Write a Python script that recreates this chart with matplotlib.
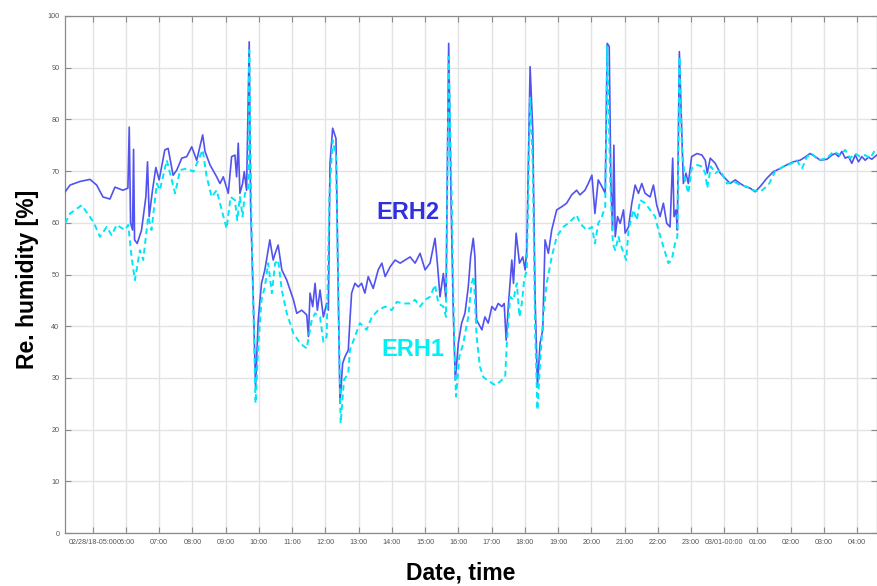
#!/usr/bin/env python3
"""Relative humidity of the two ERH sensors over one day (02/28 - 03/01)."""

import pandas as pd
import matplotlib
matplotlib.use("Agg")
import matplotlib.pyplot as plt
import matplotlib.dates as mdates

# hours counted from 02/28/18 04:00
erh2_hours = [
    0.17, 0.32, 0.62, 0.92, 1.12, 1.31, 1.52, 1.67, 1.91, 2.06, 2.10, 2.14, 2.20, 2.23,
    2.26, 2.34, 2.47, 2.60, 2.65, 2.70, 2.80, 2.90, 3.00, 3.17, 3.27, 3.42, 3.53, 3.68,
    3.83, 3.98, 4.13, 4.31, 4.38, 4.53, 4.73, 4.83, 4.93, 5.08, 5.18, 5.28, 5.33, 5.38,
    5.43, 5.51, 5.56, 5.63, 5.71, 5.75, 5.83, 5.90, 5.98, 6.08, 6.18, 6.28, 6.33, 6.43,
    6.49, 6.58, 6.69, 6.84, 7.04, 7.14, 7.29, 7.44, 7.49, 7.54, 7.62, 7.69, 7.76, 7.84,
    7.94, 8.04, 8.09, 8.14, 8.22, 8.32, 8.36, 8.44, 8.52, 8.59, 8.69, 8.74, 8.79, 8.89,
    8.99, 9.09, 9.19, 9.29, 9.44, 9.59, 9.70, 9.80, 9.95, 10.10, 10.25, 10.40, 10.55,
    10.70, 10.85, 11.00, 11.15, 11.30, 11.37, 11.45, 11.55, 11.63, 11.71, 11.78, 11.85,
    11.91, 12.00, 12.10, 12.20, 12.30, 12.37, 12.45, 12.50, 12.55, 12.71, 12.80, 12.90,
    13.01, 13.11, 13.20, 13.31, 13.38, 13.44, 13.51, 13.61, 13.66, 13.74, 13.84, 13.94,
    14.01, 14.06, 14.16, 14.24, 14.31, 14.38, 14.46, 14.54, 14.61, 14.71, 14.81, 14.96,
    15.11, 15.26, 15.41, 15.56, 15.66, 15.81, 15.91, 16.02, 16.11, 16.21, 16.32, 16.42,
    16.48, 16.54, 16.59, 16.64, 16.68, 16.72, 16.79, 16.87, 16.97, 17.02, 17.12, 17.22,
    17.32, 17.42, 17.52, 17.62, 17.77, 17.87, 17.97, 18.07, 18.17, 18.27, 18.37, 18.45,
    18.49, 18.55, 18.59, 18.65, 18.72, 18.77, 18.85, 18.92, 19.02, 19.18, 19.33, 19.43,
    19.49, 19.58, 19.73, 19.88, 20.03, 20.18, 20.33, 20.48, 20.63, 20.78, 20.93, 21.08,
    21.28, 21.48, 21.68, 21.88, 22.08, 22.28, 22.43, 22.58, 22.74, 22.89, 23.09, 23.24,
    23.34, 23.44, 23.54, 23.64, 23.74, 23.84, 23.94, 24.04, 24.14, 24.24, 24.34, 24.44,
    24.59,
]
erh2_values = [
    66.0, 67.3, 68.0, 68.4, 67.3, 65.0, 64.6, 66.9, 66.3, 66.7, 78.5, 60.0, 58.6, 74.2,
    56.7, 56.0, 58.6, 65.0, 71.8, 61.2, 66.3, 70.7, 68.3, 74.1, 74.4, 69.2, 70.2, 72.5,
    72.8, 74.7, 72.1, 77.0, 73.8, 71.2, 68.9, 67.6, 68.9, 65.7, 72.8, 73.1, 68.9, 75.4,
    65.7, 67.6, 69.9, 66.3, 95.0, 63.8, 45.7, 28.3, 41.2, 48.3, 50.9, 54.7, 56.7, 52.8,
    54.1, 55.7, 50.9, 48.9, 45.1, 42.5, 43.1, 42.2, 38.0, 46.4, 43.8, 48.3, 43.1, 47.0,
    41.8, 44.4, 43.1, 71.5, 78.3, 76.3, 58.6, 25.1, 32.8, 34.1, 35.4, 41.2, 46.4, 48.3,
    47.6, 48.3, 46.4, 49.6, 47.3, 50.9, 52.2, 49.6, 51.5, 52.8, 52.2, 52.8, 53.4,
    52.2, 54.1, 50.9, 52.2, 57.0, 52.2, 45.7, 50.2, 45.1, 94.7, 65.0, 42.5,
    29.6, 36.7, 40.6, 42.5, 47.6, 53.4, 57.0, 53.4, 41.2, 39.3, 41.8, 40.6,
    43.8, 43.1, 44.4, 43.8, 44.4, 37.3, 44.4, 52.8, 48.3, 58.0, 52.2, 53.4,
    50.9, 54.7, 90.2, 77.9, 45.7, 28.3, 36.7, 39.3, 56.7, 54.1, 58.6, 62.5,
    63.1, 63.8, 65.4, 66.3, 65.4, 66.3, 67.6, 69.2, 61.8, 68.3, 67.0, 65.7,
    94.7, 94.1, 67.6, 58.6, 75.0, 57.3, 61.2, 59.9, 62.5, 58.0, 59.2, 63.8,
    67.3, 65.7, 67.6, 65.7, 65.0, 67.3, 63.4, 61.2, 63.8, 59.9, 59.2, 72.5,
    61.2, 62.5, 58.6, 93.1, 77.9, 67.6, 69.6, 67.6, 72.8, 73.4, 73.1, 72.1,
    69.6, 72.5, 71.5, 69.6, 68.6, 67.6, 68.3, 67.6, 67.0, 66.7, 66.0, 67.0,
    68.6, 69.9, 70.5, 71.2, 71.8, 72.1, 72.7, 73.4, 72.8, 72.1, 72.3, 73.1,
    73.4, 72.8, 73.8, 72.5, 72.8, 71.5, 73.1, 71.8, 72.8, 72.1, 72.7, 72.3,
    73.1,
]

erh1_hours = [
    0.17, 0.32, 0.67, 1.02, 1.22, 1.42, 1.57, 1.72, 1.97, 2.07, 2.17, 2.27, 2.42, 2.52,
    2.67, 2.77, 2.93, 3.02, 3.23, 3.48, 3.63, 3.83, 4.03, 4.31, 4.43, 4.58, 4.73, 4.88,
    5.03, 5.15, 5.28, 5.35, 5.43, 5.51, 5.58, 5.68, 5.71, 5.78, 5.85, 5.90, 5.98, 6.08,
    6.18, 6.28, 6.39, 6.49, 6.58, 6.69, 6.84, 7.04, 7.24, 7.44, 7.59, 7.69, 7.84, 7.94,
    8.04, 8.12, 8.22, 8.32, 8.39, 8.46, 8.56, 8.69, 8.74, 8.89, 9.04, 9.24, 9.40, 9.59,
    9.80, 10.00, 10.15, 10.35, 10.55, 10.70, 10.85, 11.00, 11.15, 11.30, 11.40, 11.55,
    11.63, 11.71, 11.80, 11.87, 11.93, 12.03, 12.15, 12.30, 12.40, 12.47, 12.55, 12.65,
    12.75, 12.86, 13.11, 13.26, 13.41, 13.46, 13.56, 13.66, 13.76, 13.84, 13.91, 13.98,
    14.06, 14.16, 14.24, 14.31, 14.38, 14.46, 14.56, 14.66, 14.81, 14.96, 15.16, 15.36,
    15.56, 15.66, 15.86, 16.02, 16.11, 16.21, 16.32, 16.42, 16.48, 16.57, 16.65, 16.72,
    16.82, 16.87, 17.05, 17.12, 17.27, 17.37, 17.47, 17.62, 17.77, 17.92, 18.02, 18.17,
    18.32, 18.42, 18.52, 18.59, 18.65, 18.73, 18.82, 18.92, 19.02, 19.18, 19.33, 19.43,
    19.49, 19.60, 19.73, 19.88, 20.08, 20.28, 20.48, 20.68, 20.88, 21.08, 21.33, 21.53,
    21.78, 22.03, 22.18, 22.34, 22.49, 22.64, 22.83, 23.09, 23.29, 23.49, 23.64, 23.79,
    23.94, 24.09, 24.24, 24.39, 24.57,
]
erh1_values = [
    59.9, 61.8, 63.4, 60.2, 57.3, 59.2, 57.6, 59.6, 58.6, 59.6, 53.4, 48.9, 54.7, 52.8,
    61.2, 58.6, 67.6, 66.3, 72.1, 65.7, 70.2, 70.5, 69.9, 74.1, 68.9, 65.0, 66.3, 62.5,
    58.9, 65.0, 64.4, 60.5, 65.0, 61.2, 65.7, 66.3, 93.4, 58.6, 39.3, 25.1, 36.0, 45.1,
    47.6, 52.2, 46.4, 52.2, 52.8, 47.0, 42.5, 38.6, 36.7, 35.7, 41.2, 42.5, 41.8, 37.0,
    38.0, 65.0, 76.0, 72.8, 45.7, 21.2, 29.6, 30.9, 35.4, 38.0, 40.6, 39.3, 41.8, 43.1,
    43.8, 43.1, 44.7, 44.4, 44.4, 45.1, 43.8, 45.1, 45.7, 48.0, 44.4, 43.8,
    41.8, 92.1, 65.0, 39.3, 26.4, 34.1, 36.7, 41.8, 48.3, 49.6, 38.0, 32.2,
    30.2, 29.6, 28.6, 29.3, 30.2, 36.7, 45.7, 45.1, 48.3, 41.8, 44.4, 48.9,
    50.9, 84.4, 71.5, 39.3, 23.8, 32.8, 42.5, 48.3, 53.4, 57.3, 59.2, 60.2,
    61.5, 59.9, 58.6, 59.2, 56.0, 59.9, 61.2, 63.1, 94.1, 68.3, 56.0, 54.7,
    57.3, 56.0, 52.8, 58.6, 62.5, 60.5, 64.4, 63.8, 62.5, 61.2, 58.6, 55.4,
    52.2, 52.8, 56.0, 57.3, 92.1, 74.1, 68.3, 65.7, 70.5, 71.2, 70.9, 69.6,
    66.7, 70.9, 69.6, 70.2, 67.6, 68.0, 67.3, 67.0, 66.3, 66.0, 67.3, 69.9,
    70.9, 71.5, 72.1, 70.5, 72.8, 73.4, 72.1, 72.5, 73.8, 73.1, 74.1, 72.5,
    73.4, 72.8, 73.1, 72.5, 74.4,
]

y_ticks = [0, 10, 20, 30, 40, 50, 60, 70, 80, 90, 100]

start = pd.Timestamp("2018-02-28 04:00")
t_erh2 = start + pd.to_timedelta(erh2_hours, unit="h")
t_erh1 = start + pd.to_timedelta(erh1_hours, unit="h")


def hour_label(x, pos=None):
    d = mdates.num2date(x)
    if d.day == 28 and d.hour == 5:
        return "02/28/18-05:00"
    if d.hour == 0:
        return d.strftime("%m/%d-00:00")
    return d.strftime("%H:%M")


fig = plt.figure(figsize=(8.78, 5.86), dpi=100)
ax = fig.add_axes([0.074, 0.0904, 0.925, 0.8823])

ax.plot(t_erh2, erh2_values, color="#5252ee", lw=1.2, zorder=3)
ax.plot(t_erh1, erh1_values, color="#00e6f7", lw=1.4, ls=(0, (3, 2)), zorder=4)

ax.set_xlim(start + pd.Timedelta(minutes=10), start + pd.Timedelta(hours=24, minutes=36))
ax.set_ylim(0, 100)
ax.set_yticks(y_ticks)
ax.xaxis.set_major_locator(mdates.HourLocator())
ax.xaxis.set_major_formatter(plt.FuncFormatter(hour_label))

ax.grid(True, color="#e3e3e3", lw=1.0)
ax.set_axisbelow(True)
for s in ax.spines.values():
    s.set_color("#8a8a8a")
    s.set_linewidth(0.9)
ax.tick_params(direction="in", length=4, width=0.8, color="#8a8a8a",
               top=True, right=True, labelsize=5.2, labelcolor="#555555", pad=4)
for lab in ax.get_xticklabels() + ax.get_yticklabels():
    lab.set_family("Liberation Sans")

ax.text(start + pd.Timedelta(hours=10.49), 61.9, "ERH2", color="#3030e0",
        fontsize=17, fontweight="bold", family="Liberation Sans", ha="center", va="center")
ax.text(start + pd.Timedelta(hours=10.64), 35.4, "ERH1", color="#00f0f5",
        fontsize=17, fontweight="bold", family="Liberation Sans", ha="center", va="center")

fig.text(0.525, 0.022, "Date, time", fontsize=16.5, fontweight="bold",
         family="Liberation Sans", ha="center", va="center")
fig.text(0.031, 0.524, "Re. humidity [%]", fontsize=16.5, fontweight="bold",
         family="Liberation Sans", ha="center", va="center", rotation=90)

fig.savefig("out.png", dpi=100)
